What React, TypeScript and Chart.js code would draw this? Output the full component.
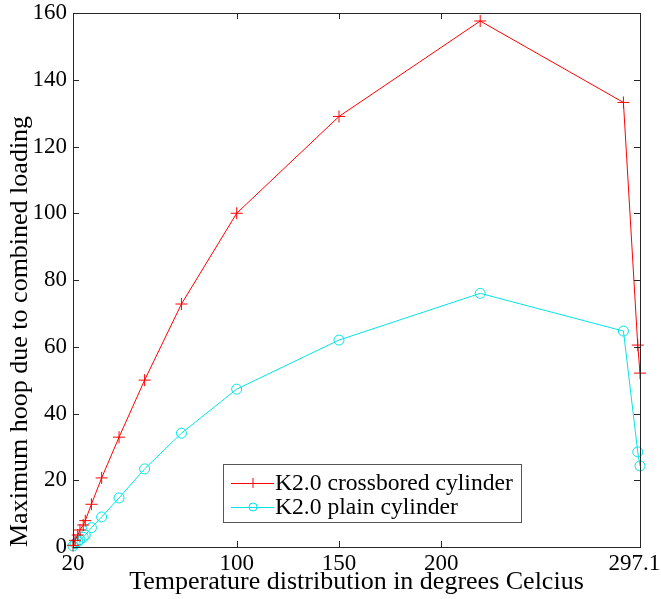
import React, { useEffect, useRef } from "react";
import { Chart, registerables } from "chart.js";
Chart.register(...registerables);

const temperatures = [20, 21, 22.3, 23.4, 25, 26, 29, 34, 42.5, 55, 73, 100, 150, 219, 289, 296, 297.1];
const crossbored = [0.5, 2, 3.6, 5.1, 6.6, 7.9, 12.8, 20.7, 32.9, 50, 72.8, 100, 129, 157.6, 133.2, 60.5, 52.1];
const plain = [0.3, 1, 1.6, 2.2, 2.9, 3.6, 5.8, 9, 14.7, 23.4, 34.1, 47.3, 62, 76, 64.7, 28.5, 24.3];
const xTickValues = [20, 100, 150, 200, 297.1];
const yTickValues = [0, 20, 40, 60, 80, 100, 120, 140, 160];
const seriesLabels = ["K2.0 crossbored cylinder", "K2.0 plain cylinder"];
const xTitle = "Temperature distribution in degrees Celcius";
const yTitle = "Maximum hoop due to combined loading";

const FONT = "'Liberation Serif', 'Times New Roman', serif";
const RED = "#ff0000";
const CYAN = "#00e5e5";

const framePlugin = {
  id: "frameTicks",
  afterDraw(chart: any) {
    const { ctx, chartArea, scales } = chart;
    const { left, right, top, bottom } = chartArea;
    const xs = scales.x;
    const ys = scales.y;
    ctx.save();
    ctx.strokeStyle = "#262626";
    ctx.lineWidth = 1;
    ctx.strokeRect(Math.round(left) + 0.5, Math.round(top) + 0.5, Math.round(right - left), Math.round(bottom - top));
    const tl = 6;
    ctx.beginPath();
    for (const v of xTickValues) {
      const px = Math.round(xs.getPixelForValue(v)) + 0.5;
      ctx.moveTo(px, bottom);
      ctx.lineTo(px, bottom - tl);
      ctx.moveTo(px, top);
      ctx.lineTo(px, top + tl);
    }
    for (const v of yTickValues) {
      const py = Math.round(ys.getPixelForValue(v)) + 0.5;
      ctx.moveTo(left, py);
      ctx.lineTo(left + tl, py);
      ctx.moveTo(right, py);
      ctx.lineTo(right - tl, py);
    }
    ctx.stroke();

    // legend
    const bx = 223, by = 464, bw = 298, bh = 58;
    ctx.fillStyle = "#ffffff";
    ctx.fillRect(bx, by, bw, bh);
    ctx.strokeStyle = "#555555";
    ctx.strokeRect(bx + 0.5, by + 0.5, bw, bh);
    const rows = [
      { label: seriesLabels[0], color: RED, style: "cross", y: by + 19 },
      { label: seriesLabels[1], color: CYAN, style: "circle", y: by + 43 },
    ];
    ctx.font = "23.6px " + FONT;
    ctx.textBaseline = "middle";
    for (const r of rows) {
      ctx.strokeStyle = r.color;
      ctx.lineWidth = 1;
      ctx.beginPath();
      ctx.moveTo(bx + 8, r.y + 0.5);
      ctx.lineTo(bx + 51, r.y + 0.5);
      ctx.stroke();
      const cx = bx + 30;
      ctx.beginPath();
      if (r.style === "cross") {
        ctx.moveTo(cx, r.y - 5);
        ctx.lineTo(cx, r.y + 5);
      } else {
        ctx.arc(cx, r.y, 4, 0, Math.PI * 2);
      }
      ctx.stroke();
      ctx.fillStyle = "#000000";
      ctx.fillText(r.label, bx + 52, r.y + 1);
    }
    ctx.restore();
  },
};

export default function App() {
  const ref = useRef<HTMLCanvasElement | null>(null);
  useEffect(() => {
    const canvas = ref.current;
    if (!canvas) return;
    const toPoints = (vals: number[]) => temperatures.map((t, i) => ({ x: t, y: vals[i] }));
    const lastX = xTickValues[xTickValues.length - 1];
    const chart = new Chart(canvas, {
      type: "line",
      data: {
        datasets: [
          {
            label: seriesLabels[0],
            data: toPoints(crossbored),
            borderColor: RED,
            backgroundColor: "rgba(0,0,0,0)",
            borderWidth: 1,
            pointStyle: "cross",
            pointRadius: 6,
            pointBorderColor: RED,
            pointBorderWidth: 1,
            pointBackgroundColor: "rgba(0,0,0,0)",
            tension: 0,
            clip: false as any,
          },
          {
            label: seriesLabels[1],
            data: toPoints(plain),
            borderColor: CYAN,
            backgroundColor: "rgba(0,0,0,0)",
            borderWidth: 1,
            pointStyle: "circle",
            pointRadius: 5,
            pointBorderColor: CYAN,
            pointBorderWidth: 1,
            pointBackgroundColor: "rgba(0,0,0,0)",
            tension: 0,
            clip: false as any,
          },
        ],
      },
      options: {
        responsive: false,
        animation: false,
        layout: { padding: { top: 13, right: 21, bottom: 0, left: 0 } },
        plugins: { legend: { display: false }, tooltip: { enabled: false } },
        scales: {
          x: {
            type: "linear",
            min: 20,
            max: 297.1,
            afterBuildTicks: (s: any) => {
              s.ticks = xTickValues.map((v) => ({ value: v }));
            },
            afterFit: (s: any) => {
              s.height = 52;
              s.paddingLeft = 0;
              s.paddingRight = 0;
            },
            grid: { display: false, drawTicks: false },
            border: { display: false },
            ticks: {
              autoSkip: false,
              maxRotation: 0,
              padding: 3,
              color: "#000",
              font: { family: FONT, size: 23 },
              callback: (v: any) => (v === lastX ? String(v) + "  " : String(v)),
            },
            title: {
              display: true,
              text: xTitle,
              color: "#000",
              font: { family: FONT, size: 26 },
              padding: { top: 0, bottom: 1 },
            },
          },
          y: {
            type: "linear",
            min: 0,
            max: 160,
            afterBuildTicks: (s: any) => {
              s.ticks = yTickValues.map((v) => ({ value: v }));
            },
            afterFit: (s: any) => {
              s.width = 73;
              s.paddingTop = 0;
              s.paddingBottom = 0;
            },
            grid: { display: false, drawTicks: false },
            border: { display: false },
            ticks: {
              padding: 6,
              color: "#000",
              font: { family: FONT, size: 23 },
              callback: (v: any) => String(v),
            },
            title: {
              display: true,
              align: "start",
              text: yTitle,
              color: "#000",
              font: { family: FONT, size: 26 },
              padding: { top: 5, bottom: 0 },
            },
          },
        },
      },
      plugins: [framePlugin],
    } as any);
    return () => chart.destroy();
  }, []);
  return (
    <div style={{ position: "absolute", left: 0, top: 0, width: 661, height: 599, background: "#fff" }}>
      <canvas ref={ref} width={661} height={599} />
    </div>
  );
}
